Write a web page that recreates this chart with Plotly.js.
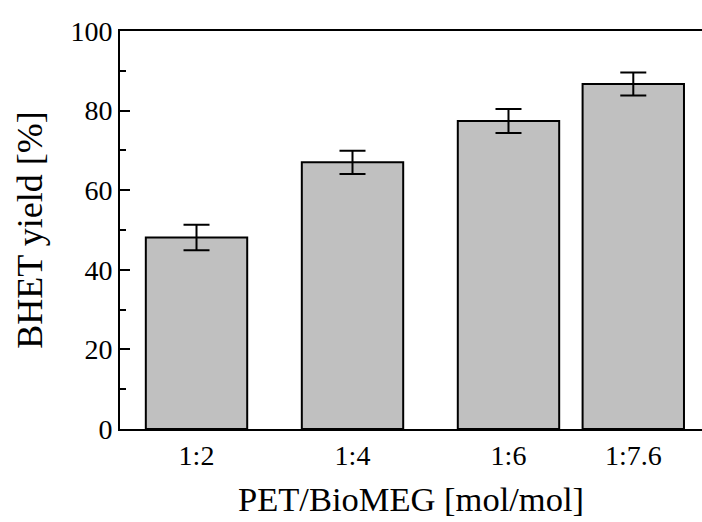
<!DOCTYPE html>
<html>
<head>
<meta charset="utf-8">
<script src="https://cdn.plot.ly/plotly-3.0.1.min.js"></script>
<style>html,body{margin:0;padding:0;background:#fff;}#chart{width:702px;height:522px;}</style>
</head>
<body>
<div id="chart"></div>
<script>
const ratioPositions = [2, 4, 6, 7.6];
const ratioLabels = ["1:2", "1:4", "1:6", "1:7.6"];
const yieldValues = [48.1, 67.0, 77.4, 86.7];
const yieldErrors = [3.2, 2.9, 3.0, 2.9];
const yTickValues = [0, 20, 40, 60, 80, 100];

const font = "'Liberation Serif', 'Times New Roman', serif";

const trace = {
  type: "bar",
  x: ratioPositions,
  y: yieldValues,
  width: 1.3,
  marker: {color: "#c0c0c0", line: {color: "#000", width: 2}},
  error_y: {type: "data", array: yieldErrors, visible: true, color: "#000", thickness: 2, width: 13},
  hoverinfo: "none"
};

const layout = {
  width: 702, height: 522,
  margin: {l: 120, r: 0, t: 31, b: 93, pad: 0},
  paper_bgcolor: "#fff", plot_bgcolor: "#fff",
  showlegend: false,
  font: {family: font, color: "#000", size: 28},
  xaxis: {
    range: [1.019, 8.481],
    tickvals: ratioPositions, ticktext: ratioLabels,
    ticks: "", showgrid: false, zeroline: false,
    showline: true, linecolor: "#000", linewidth: 2, mirror: true,
    tickfont: {family: font, size: 28, color: "#000"},
    title: {text: "PET/BioMEG [mol/mol]", font: {family: font, size: 34.5, color: "#000"}, standoff: 17}
  },
  yaxis: {
    range: [0, 100],
    tickvals: yTickValues,
    ticks: "inside", ticklen: 10, tickwidth: 2, tickcolor: "#000",
    minor: {ticks: "inside", ticklen: 6, tickwidth: 2, tickcolor: "#000", dtick: 10, showgrid: false},
    showgrid: false, zeroline: false,
    showline: true, linecolor: "#000", linewidth: 2,
    tickfont: {family: font, size: 28, color: "#000"},
    title: {text: "BHET yield [%]", font: {family: font, size: 36, color: "#000"}, standoff: 17}
  }
};

Plotly.newPlot("chart", [trace], layout, {staticPlot: true, displayModeBar: false});
</script>
</body>
</html>
